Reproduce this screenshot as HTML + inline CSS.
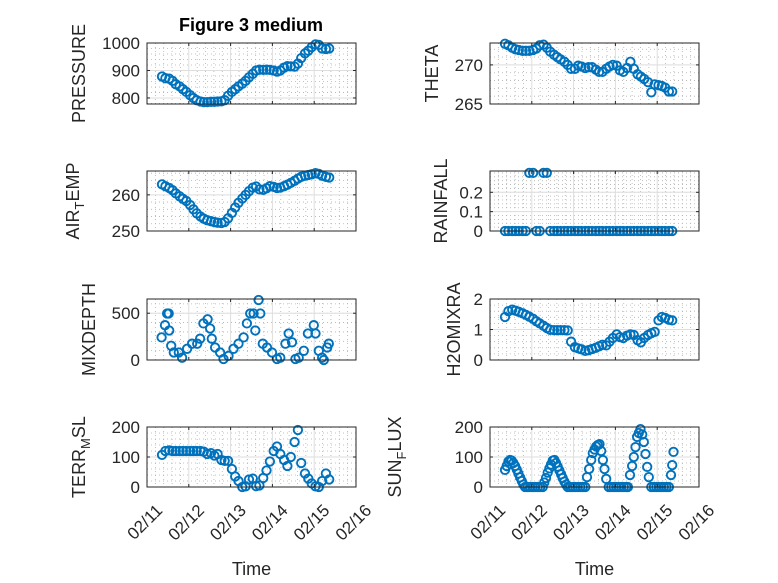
<!DOCTYPE html>
<html><head><meta charset="utf-8"><style>
html,body{margin:0;padding:0;background:#fff;}
svg{display:block;font-family:"Liberation Sans",sans-serif;}
</style></head><body>
<svg id="fig" width="778" height="583" viewBox="0 0 778 583" xmlns="http://www.w3.org/2000/svg">
<rect width="778" height="583" fill="#fff"/>
<text x="251" y="31" text-anchor="middle" font-size="18" font-weight="bold" fill="#000">Figure 3 medium</text>
</svg>
<script>
// Shared time axis (days since 02/11)
const T = [0.36,0.44,0.53,0.61,0.69,0.78,0.86,0.94,1.03,1.11,1.19,1.28,1.36,1.44,1.53,1.61,1.69,1.78,1.86,1.94,2.03,2.11,2.19,2.28,2.36,2.44,2.53,2.61,2.69,2.78,2.86,2.94,3.03,3.11,3.19,3.28,3.36,3.44,3.53,3.61,3.69,3.78,3.86,3.94,4.03,4.11,4.19,4.28,4.36];
const xTickLabels = ["02/11","02/12","02/13","02/14","02/15","02/16"];
const pressure = [878,872,870,862,850,842,832,822,810,800,792,787,785,785,786,786,787,788,792,808,822,832,842,852,862,875,888,900,903,902,903,902,900,896,900,910,916,915,914,925,945,962,972,985,995,993,980,978,980];
const theta = [272.7,272.5,272.2,272.0,271.9,271.8,271.8,271.8,271.9,272.1,272.5,272.6,272.2,271.7,271.3,271.0,270.7,270.4,270.0,269.5,269.5,269.9,269.8,269.6,269.7,269.7,269.4,269.1,269.1,269.5,269.8,270.0,269.9,269.3,269.1,269.6,270.4,269.5,268.8,268.5,268.2,267.8,266.5,267.5,267.4,267.3,267.1,266.6,266.6];
const airTemp = [262.9,262.4,261.9,261.3,260.4,259.6,258.9,258.3,257.2,256.0,254.9,254.0,253.4,253.0,252.7,252.5,252.3,252.2,252.5,253.5,255.0,256.5,257.8,259.0,260.0,261.0,262.0,262.3,261.5,261.4,261.8,262.4,262.2,261.9,262.0,262.4,262.8,263.3,263.9,264.5,265.0,265.3,265.5,265.7,266.0,265.8,265.3,265.0,264.8];
const rainfall = [0,0,0,0,0,0,0,0.3,0.3,0,0,0.3,0.3,0,0,0,0,0,0,0,0,0,0,0,0,0,0,0,0,0,0,0,0,0,0,0,0,0,0,0,0,0,0,0,0,0,0,0,0];
const mixT = [0.35,0.43,0.48,0.52,0.53,0.58,0.64,0.76,0.84,0.96,1.08,1.2,1.27,1.35,1.45,1.51,1.55,1.63,1.75,1.83,1.95,2.07,2.19,2.31,2.39,2.47,2.55,2.59,2.67,2.71,2.77,2.87,2.99,3.11,3.19,3.31,3.39,3.47,3.55,3.63,3.75,3.85,3.99,4.03,4.11,4.19,4.23,4.31,4.35];
const mixDepth = [242,372,497,497,315,152,80,80,25,120,174,174,228,391,435,337,228,134,80,11,44,120,174,242,391,497,497,315,641,497,174,134,80,11,25,174,283,189,11,25,98,283,372,283,98,25,0,134,174];
const h2o = [1.41,1.6,1.65,1.62,1.58,1.53,1.48,1.42,1.35,1.27,1.2,1.12,1.05,0.99,0.98,0.98,0.98,0.98,0.97,0.6,0.42,0.38,0.35,0.3,0.32,0.36,0.4,0.45,0.5,0.48,0.6,0.72,0.84,0.75,0.72,0.8,0.84,0.82,0.65,0.58,0.72,0.82,0.88,0.92,1.3,1.41,1.38,1.32,1.3];
const terr = [107,120,122,120,120,120,120,120,120,120,120,120,118,110,113,105,110,90,87,87,60,35,20,0,2,25,28,3,5,30,55,85,120,135,110,90,70,100,150,190,80,45,28,12,2,0,20,45,25];
const sunT = [0.36,0.40,0.44,0.48,0.52,0.56,0.60,0.64,0.68,0.72,0.76,0.80,0.84,0.90,0.96,1.02,1.08,1.14,1.20,1.26,1.30,1.34,1.38,1.42,1.46,1.50,1.54,1.58,1.62,1.66,1.70,1.74,1.78,1.82,1.86,1.92,1.98,2.04,2.10,2.16,2.22,2.28,2.32,2.37,2.42,2.46,2.50,2.54,2.58,2.62,2.66,2.70,2.74,2.78,2.84,2.90,2.96,3.02,3.08,3.14,3.20,3.26,3.30,3.35,3.40,3.44,3.48,3.52,3.56,3.60,3.64,3.68,3.72,3.76,3.80,3.86,3.92,3.98,4.04,4.10,4.16,4.22,4.28,4.33,4.36,4.39];
const sunFlux = [57,70,85,90,88,80,70,58,45,32,20,8,0,0,0,0,0,0,0,0,15,30,48,62,75,88,90,80,68,55,42,30,18,8,0,0,0,0,0,0,0,0,33,60,90,113,125,135,140,143,120,90,60,27,0,0,0,0,0,0,0,0,0,40,70,100,133,167,180,193,175,150,110,67,33,0,0,0,0,0,0,0,0,40,73,117];

const NS = "http://www.w3.org/2000/svg";
const svg = document.getElementById("fig");
const AX = "#262626", BLUE = "#0072BD";
function mk(tag, attrs, parent){const e=document.createElementNS(NS,tag);for(const k in attrs)e.setAttribute(k,attrs[k]);(parent||svg).appendChild(e);return e;}

function panel(cfg, xs, ys){
  const g = mk("g",{});
  
  
  const {x0,y0,w,h,ymin,ymax} = cfg;
  const sx = d => x0 + d/5*w;
  const sy = v => y0 + h - (v-ymin)/(ymax-ymin)*h;
  mk("rect",{x:x0,y:y0,width:w,height:h,fill:"#fff"},g);
  for(let d=0; d<=5.0001; d+=0.2){ if(Math.abs(d-Math.round(d))<1e-6) continue;
    mk("line",{x1:sx(d),x2:sx(d),y1:y0,y2:y0+h,stroke:"#b0b0b0","stroke-width":0.8,"stroke-dasharray":"1 3"},g);}
  for(let v=cfg.yt[0]-cfg.minor*20; v<=ymax+1e-9; v+=cfg.minor){
    if(v<ymin-1e-9) continue;
    mk("line",{x1:x0,x2:x0+w,y1:sy(v),y2:sy(v),stroke:"#b0b0b0","stroke-width":0.8,"stroke-dasharray":"1 3"},g);}
  for(let d=1; d<5; d++) mk("line",{x1:sx(d),x2:sx(d),y1:y0,y2:y0+h,stroke:"#dedede","stroke-width":1},g);
  cfg.yt.forEach(v=>{ mk("line",{x1:x0,x2:x0+w,y1:sy(v),y2:sy(v),stroke:"#dedede","stroke-width":1},g);});
  const dg = mk("g",{fill:"none",stroke:BLUE,"stroke-width":1.9},g);
  
  
  xs.forEach((d,i)=>{
    const c = mk("circle",{cx:sx(d).toFixed(1),cy:sy(ys[i]).toFixed(1),r:4.2},dg);
    
    
  });
  mk("rect",{x:x0,y:y0,width:w,height:h,fill:"none",stroke:AX,"stroke-width":1},g);
  for(let d=0; d<=5; d++){
    mk("line",{x1:sx(d),x2:sx(d),y1:y0+h,y2:y0+h-3,stroke:AX},g);
    mk("line",{x1:sx(d),x2:sx(d),y1:y0,y2:y0+3,stroke:AX},g);
  }
  cfg.yt.forEach((v,i)=>{
    mk("line",{x1:x0,x2:x0+3,y1:sy(v),y2:sy(v),stroke:AX},g);
    mk("line",{x1:x0+w,x2:x0+w-3,y1:sy(v),y2:sy(v),stroke:AX},g);
    const t = mk("text",{x:x0-7,y:sy(v)+6,"text-anchor":"end","font-size":17,fill:AX},g);
    
    
    t.textContent = cfg.ytl[i];
  });
  const yl = mk("text",{transform:`translate(${cfg.lx},${y0+h/2}) rotate(-90)`,"text-anchor":"middle","font-size":18,fill:AX},g);
  
  
  cfg.label.forEach(p=>{ const s=mk("tspan",p.sub?{dy:5,"font-size":13}:(p.up?{dy:-5}:{}),yl); s.textContent=p.t; });
  if(cfg.bottom){
    xTickLabels.forEach((s,i)=>{
      const tx = sx(i)+8, ty = y0+h+16;
      const t = mk("text",{transform:`translate(${tx},${ty}) rotate(-45)`,"text-anchor":"end","font-size":17,fill:AX,dy:"0.7em"},g);
      
      
      t.textContent = s;
    });
    const xl = mk("text",{x:x0+w/2,y:575,"text-anchor":"middle","font-size":18,fill:AX},g);
    
    
    xl.textContent = "Time";
  }
}
const L=147, R=490, W=209, H=61;
panel({name:"pressure",x0:L,y0:43,w:W,h:H,ymin:778,ymax:1000,yt:[800,900,1000],ytl:["800","900","1000"],minor:20,lx:85,label:[{t:"PRESSURE"}]}, T, pressure);
panel({name:"theta",x0:R,y0:43,w:W,h:H,ymin:265,ymax:272.8,yt:[265,270],ytl:["265","270"],minor:1,lx:438,label:[{t:"THETA"}]}, T, theta);
panel({name:"air-temp",x0:L,y0:171,w:W,h:60,ymin:250,ymax:266.6,yt:[250,260],ytl:["250","260"],minor:2,lx:79,label:[{t:"AIR"},{t:"T",sub:true},{t:"EMP",up:true}]}, T, airTemp);
panel({name:"rainfall",x0:R,y0:171,w:W,h:60,ymin:0,ymax:0.31,yt:[0,0.1,0.2],ytl:["0","0.1","0.2"],minor:0.02,lx:447,label:[{t:"RAINFALL"}]}, T, rainfall);
panel({name:"mixdepth",x0:L,y0:299,w:W,h:H,ymin:0,ymax:652,yt:[0,500],ytl:["0","500"],minor:100,lx:95,label:[{t:"MIXDEPTH"}]}, mixT, mixDepth);
panel({name:"h2omixra",x0:R,y0:299,w:W,h:H,ymin:0,ymax:2,yt:[0,1,2],ytl:["0","1","2"],minor:0.2,lx:460,label:[{t:"H2OMIXRA"}]}, T, h2o);
panel({name:"terr-msl",x0:L,y0:427,w:W,h:60,ymin:0,ymax:200,yt:[0,100,200],ytl:["0","100","200"],minor:20,lx:85,bottom:true,label:[{t:"TERR"},{t:"M",sub:true},{t:"SL",up:true}]}, T, terr);
panel({name:"sun-flux",x0:R,y0:427,w:W,h:60,ymin:0,ymax:200,yt:[0,100,200],ytl:["0","100","200"],minor:20,lx:401,bottom:true,label:[{t:"SUN"},{t:"F",sub:true},{t:"LUX",up:true}]}, sunT, sunFlux);
</script>
</body></html>
